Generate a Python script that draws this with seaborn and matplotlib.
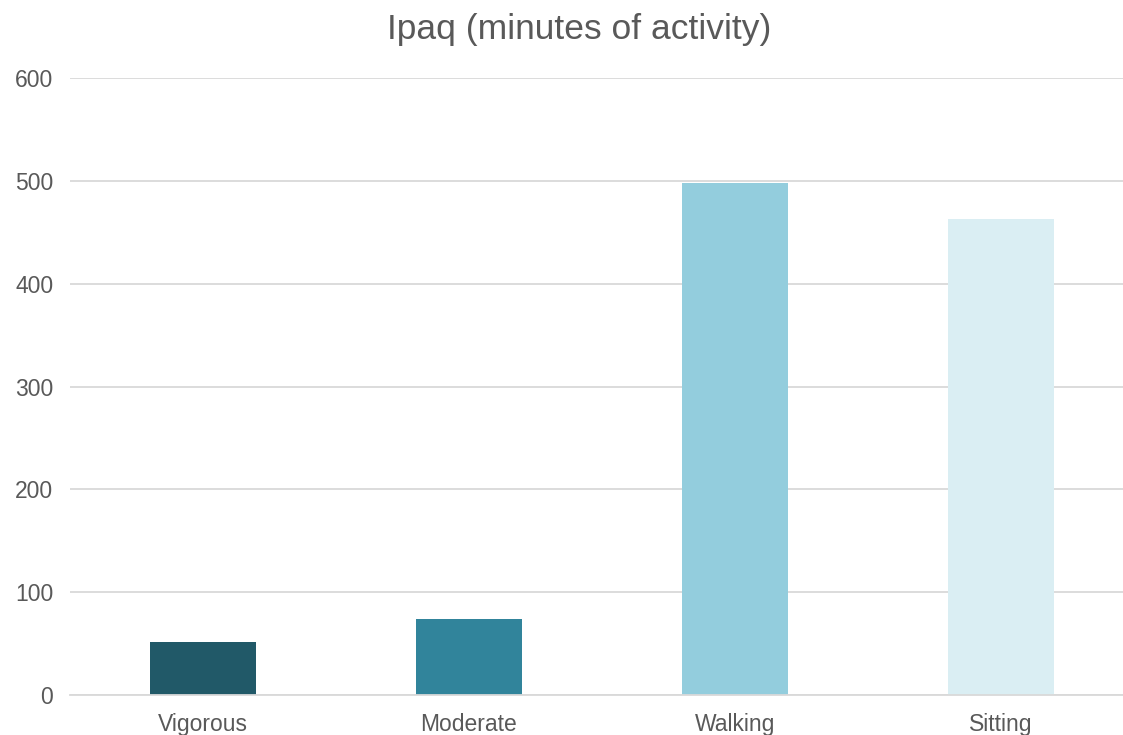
import matplotlib
matplotlib.use("Agg")
import matplotlib.pyplot as plt
import seaborn as sns
import pandas as pd

categories = ["Vigorous", "Moderate", "Walking", "Sitting"]
values = [52, 74, 498, 463]
colors = ["#215968", "#31849B", "#93CDDD", "#DAEEF3"]
yticks = [0, 100, 200, 300, 400, 500, 600]

sns.set_theme(style="white")
plt.rcParams['font.family'] = ['Liberation Sans', 'DejaVu Sans']

df = pd.DataFrame({"category": categories, "value": values})

fig = plt.figure(figsize=(11.23, 7.35), dpi=100)
ax = fig.add_axes([70/1123, 1 - 695/735, (1123-70)/1123, (695-78)/735])

sns.barplot(data=df, x="category", y="value", hue="category", palette=colors,
            width=0.4, legend=False, ax=ax, saturation=1, linewidth=0)

ax.set_ylim(0, 600)
ax.set_xlim(-0.5, (1123-70)/266 - 0.5)
ax.set_yticks(yticks)
ax.yaxis.grid(True, color="#D9D9D9", linewidth=1.3)
ax.set_axisbelow(True)
for s in ["top", "right", "left"]:
    ax.spines[s].set_visible(False)
ax.spines["bottom"].set_color("#D9D9D9")
ax.spines["bottom"].set_linewidth(1.3)
ax.set_xlabel("")
ax.set_ylabel("")
ax.tick_params(axis="both", length=0, labelsize=16.5, colors="#595959")
ax.tick_params(axis="y", pad=12)
ax.tick_params(axis="x", pad=13)
fig.text(579/1123, 1 - 29/735, "Ipaq (minutes of activity)", ha="center", va="center",
         fontsize=25.5, color="#595959")

fig.savefig("out.png", dpi=100)
